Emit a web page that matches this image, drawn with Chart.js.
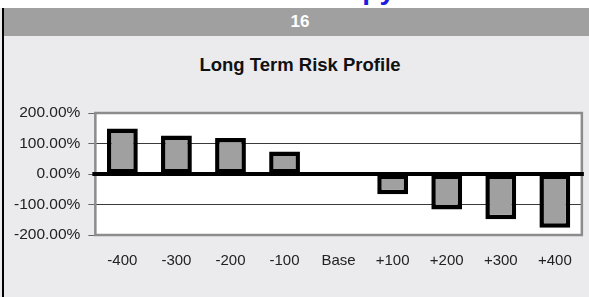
<!DOCTYPE html>
<html>
<head>
<meta charset="utf-8">
<title>Long Term Risk Profile</title>
<script src="https://cdn.jsdelivr.net/npm/chart.js@4.4.1/dist/chart.umd.min.js"></script>
<style>
  html, body { margin:0; width:589px; height:297px; overflow:hidden; }
  body { background:#ebebed; position:relative; font-family:"Liberation Sans", Arial, sans-serif; }
  #strip { position:absolute; left:0; top:0; width:600px; height:8px; overflow:hidden; background:#fff; }
  #strip span { position:absolute; left:325px; top:-24px; font:bold 28px/28px "Liberation Sans", Arial, sans-serif; color:#1c1ce0; white-space:nowrap; }
  #frame { position:absolute; left:2px; top:8px; width:600px; height:289px; border-left:2px solid #000; background:#ebebed; }
  #head { width:592px; height:28px; background:#a0a0a0; color:#fff; font-weight:bold; font-size:17px; line-height:28px; text-align:center; }
  #title { position:absolute; left:4px; width:592px; top:54px; text-align:center; font-weight:bold; font-size:18.5px; color:#111; white-space:nowrap; }
  #myChart { position:absolute; left:0; top:90px; }
</style>
</head>
<body>
<div id="strip"><span>Copy</span></div>
<div id="frame"><div id="head">16</div></div>
<div id="title">Long Term Risk Profile</div>
<canvas id="myChart" width="589" height="207"></canvas>
<script>
  const categories = ['-400', '-300', '-200', '-100', 'Base', '+100', '+200', '+300', '+400'];
  const riskValues = [149, 126, 118, 74, 0, -66, -116, -148, -176];
  const tickValues = [200, 100, 0, -100, -200];

  // white plot area, grey frame and heavy zero line like the original
  const plotFrame = {
    id: 'plotFrame',
    beforeDraw(chart) {
      const a = chart.chartArea, ctx = chart.ctx;
      ctx.save();
      ctx.fillStyle = '#fff';
      ctx.fillRect(a.left, a.top, a.right - a.left, a.bottom - a.top);
      ctx.restore();
    },
    afterDatasetsDraw(chart) {
      const a = chart.chartArea, ctx = chart.ctx;
      const y0 = chart.scales.y.getPixelForValue(0);
      ctx.save();
      ctx.strokeStyle = '#8c8c8c';
      ctx.lineWidth = 2.5;
      ctx.strokeRect(a.left, a.top, a.right - a.left, a.bottom - a.top);
      ctx.strokeStyle = '#000';
      ctx.lineWidth = 4;
      ctx.beginPath();
      ctx.moveTo(a.left - 3, y0);
      ctx.lineTo(a.right + 2, y0);
      ctx.stroke();
      ctx.restore();
    }
  };

  new Chart('myChart', {
    type: 'bar',
    data: {
      labels: categories,
      datasets: [{
        data: riskValues,
        backgroundColor: '#a0a0a0',
        borderColor: '#000',
        borderWidth: 4.5,
        borderSkipped: false,
        barPercentage: 0.57,
        categoryPercentage: 1
      }]
    },
    options: {
      responsive: false,
      animation: false,
      layout: { padding: { left: 6, right: 5, top: 23, bottom: 10 } },
      plugins: { legend: { display: false }, tooltip: { enabled: false } },
      scales: {
        x: {
          grid: { display: false, drawTicks: false },
          border: { display: false },
          ticks: { padding: 17, color: '#222', font: { family: '"Liberation Sans", Arial, sans-serif', size: 15 } }
        },
        y: {
          min: -200,
          max: 200,
          afterBuildTicks(scale) { scale.ticks = tickValues.map(v => ({ value: v })); },
          grid: { color: '#3a3a3a', lineWidth: 1, tickLength: 7, tickColor: '#666' },
          border: { display: false },
          ticks: {
            padding: 8,
            color: '#222',
            font: { family: '"Liberation Sans", Arial, sans-serif', size: 15.5 },
            callback: v => v.toFixed(2) + '%'
          }
        }
      }
    },
    plugins: [plotFrame]
  });
</script>
</body>
</html>
